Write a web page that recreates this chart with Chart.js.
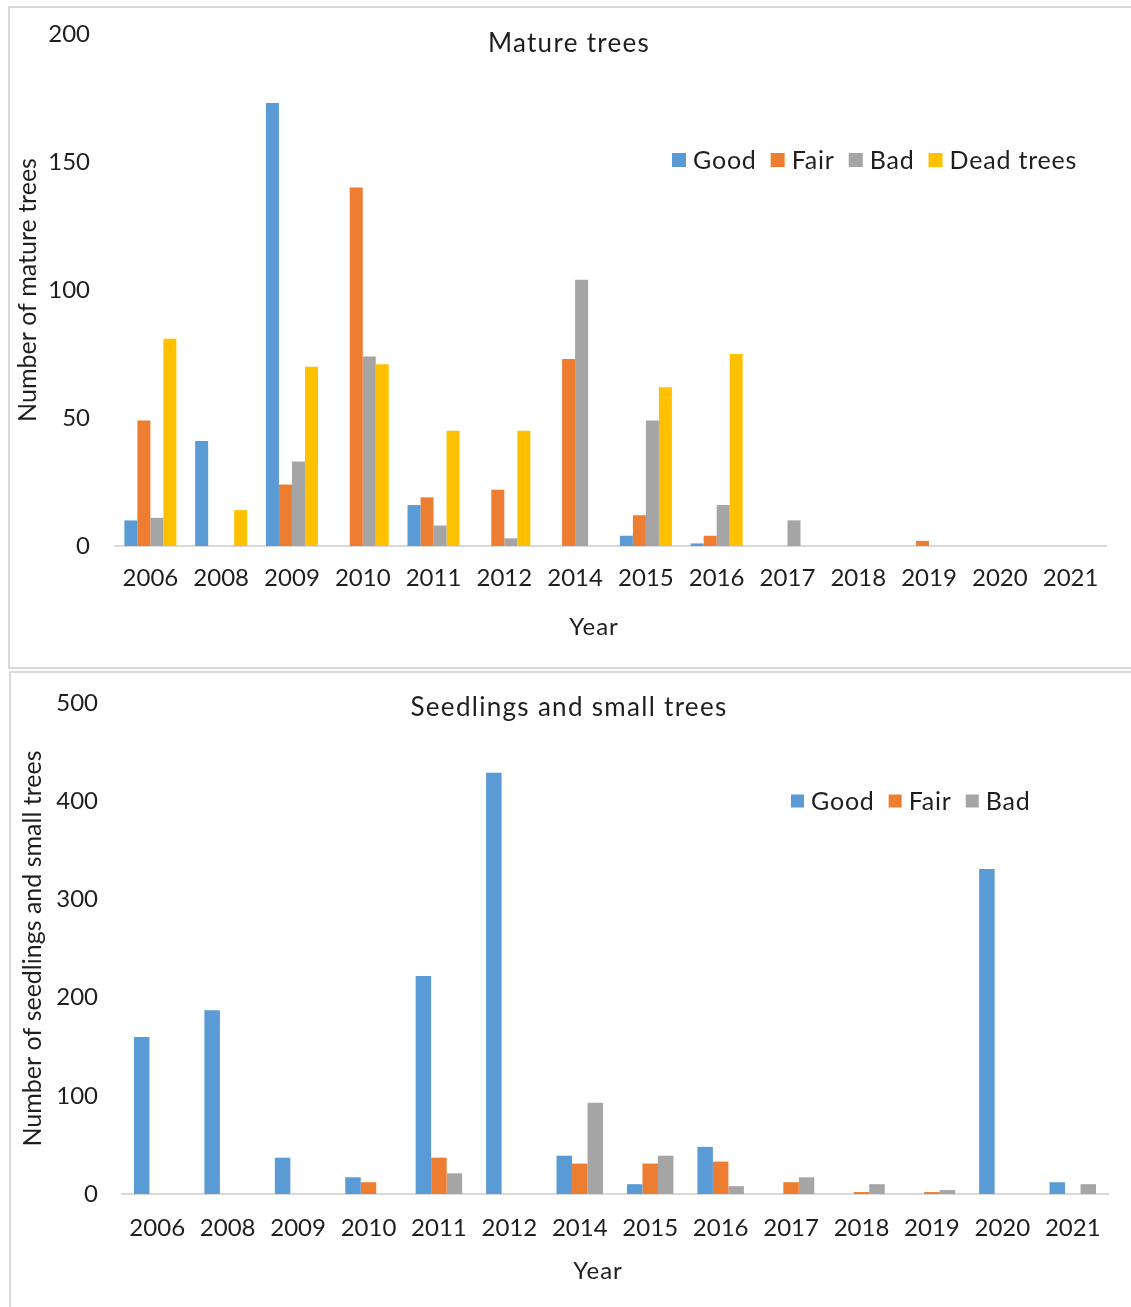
<!DOCTYPE html>
<html>
<head>
<meta charset="utf-8">
<script src="https://cdn.jsdelivr.net/npm/chart.js@4.4.1/dist/chart.umd.min.js"></script>
<style>
  html, body { margin: 0; padding: 0; background: #fff; width: 1131px; height: 1307px; overflow: hidden; }
  .panel { position: absolute; border: 2px solid #d9d9d9; box-sizing: border-box; }
  .holder { position: absolute; left: 0; }
  canvas { display: block; }
</style>
</head>
<body>
<div class="panel" style="left:8px;top:6px;width:1140px;height:663px"></div>
<div class="panel" style="left:9px;top:671px;width:1140px;height:700px"></div>
<div class="holder" style="top:0;width:1131px;height:668px"><canvas id="mature" width="1131" height="668"></canvas></div>
<div class="holder" style="top:670px;width:1131px;height:637px"><canvas id="seedlings" width="1131" height="637"></canvas></div>

<script>
// Survey years (shared by both charts)
const years = ['2006','2008','2009','2010','2011','2012','2014','2015','2016','2017','2018','2019','2020','2021'];

// Mature trees by condition
const matureGood = [10, 41, 173, 0, 16, 0, 0, 4, 1, 0, 0, 0, 0, 0];
const matureFair = [49, 0, 24, 140, 19, 22, 73, 12, 4, 0, 0, 2, 0, 0];
const matureBad  = [11, 0, 33, 74, 8, 3, 104, 49, 16, 10, 0, 0, 0, 0];
const matureDead = [81, 14, 70, 71, 45, 45, 0, 62, 75, 0, 0, 0, 0, 0];

// Seedlings and small trees by condition
const seedGood = [160, 187, 37, 17, 222, 429, 39, 10, 48, 0, 0, 0, 331, 12];
const seedFair = [0, 0, 0, 12, 37, 0, 31, 31, 33, 12, 2, 2, 0, 0];
const seedBad  = [0, 0, 0, 0, 21, 0, 93, 39, 8, 17, 10, 4, 0, 10];

// Axis tick settings
const matureTicks = { min: 0, max: 200, step: 50 };
const seedTicks   = { min: 0, max: 500, step: 100 };

const FONT = 'Lato';
const INK = '#1e1e1e';
const COLORS = { good: '#5B9BD5', fair: '#ED7D31', bad: '#A5A5A5', dead: '#FFC000' };

Chart.defaults.font.family = FONT;
Chart.defaults.color = INK;

// Draws the chart title, the in-plot legend and the horizontal axis title
const overlayText = {
  id: 'overlayText',
  afterDraw(chart, args, o) {
    const ctx = chart.ctx;
    ctx.save();
    ctx.textBaseline = 'middle';
    ctx.fillStyle = INK;
    ctx.textAlign = 'center';
    ctx.letterSpacing = o.titleSpacing + 'px';
    ctx.font = o.titleSize + 'px ' + FONT;
    ctx.fillText(o.title, o.titleX, o.titleY);
    ctx.letterSpacing = '1px';
    ctx.font = o.axisSize + 'px ' + FONT;
    ctx.fillText(o.xTitle, o.xTitleX, o.xTitleY);

    ctx.textAlign = 'left';
    ctx.letterSpacing = o.legendSpacing + 'px';
    ctx.font = o.legendSize + 'px ' + FONT;
    let x = o.legendX;
    const box = o.box;
    chart.data.datasets.forEach(ds => {
      ctx.fillStyle = ds.backgroundColor;
      ctx.fillRect(x, o.legendY - box / 2, box, box);
      x += box + 7;
      ctx.fillStyle = INK;
      ctx.fillText(ds.label, x, o.legendY + 1);
      x += ctx.measureText(ds.label).width + 14;
    });
    ctx.restore();
  }
};

function makeChart(id, datasets, ticks, cfg) {
  return new Chart(document.getElementById(id), {
    type: 'bar',
    data: { labels: years, datasets },
    options: {
      responsive: false,
      animation: false,
      events: [],
      layout: { padding: cfg.padding },
      datasets: { bar: { categoryPercentage: cfg.catPct, barPercentage: 1.0, borderWidth: 0 } },
      plugins: {
        legend: { display: false },
        title: { display: false },
        tooltip: { enabled: false },
        overlayText: cfg.overlay
      },
      scales: {
        x: {
          grid: { display: false, drawTicks: false },
          border: { display: true, color: '#d9d9d9', width: 2 },
          ticks: { font: { size: 24 }, padding: cfg.xTickPad, maxRotation: 0, autoSkip: false },
          afterFit: s => { s.height = cfg.xHeight; }
        },
        y: {
          min: ticks.min, max: ticks.max,
          grid: { display: false, drawTicks: false },
          border: { display: false },
          ticks: { stepSize: ticks.step, font: { size: 24 }, padding: cfg.yTickPad },
          title: { display: true, text: cfg.yTitle, font: { size: 25 }, padding: 0 },
          afterFit: s => {
            s.width = cfg.yWidth;
            // the top label fits inside the layout padding already
            s.paddingTop = 0;
            s.paddingBottom = 0;
          }
        }
      }
    },
    plugins: [overlayText]
  });
}

makeChart('mature', [
  { label: 'Good', data: matureGood, backgroundColor: COLORS.good },
  { label: 'Fair', data: matureFair, backgroundColor: COLORS.fair },
  { label: 'Bad', data: matureBad, backgroundColor: COLORS.bad },
  { label: 'Dead trees', data: matureDead, backgroundColor: COLORS.dead }
], matureTicks, {
  padding: { left: 13, top: 34, right: 25, bottom: 0 },
  catPct: 0.735,
  xHeight: 122,
  xTickPad: 18,
  yTickPad: 25,
  yWidth: 102,
  yTitle: 'Number of mature trees',
  overlay: {
    title: 'Mature trees', titleX: 569, titleY: 44, titleSize: 26, titleSpacing: 1.3,
    xTitle: 'Year', xTitleX: 594, xTitleY: 627, axisSize: 24,
    legendX: 672, legendY: 160, legendSize: 25, legendSpacing: 0.8, box: 14
  }
});

makeChart('seedlings', [
  { label: 'Good', data: seedGood, backgroundColor: COLORS.good },
  { label: 'Fair', data: seedFair, backgroundColor: COLORS.fair },
  { label: 'Bad', data: seedBad, backgroundColor: COLORS.bad }
], seedTicks, {
  padding: { left: 18, top: 33, right: 23, bottom: 0 },
  catPct: 0.66,
  xHeight: 113,
  xTickPad: 20,
  yTickPad: 24,
  yWidth: 104,
  yTitle: 'Number of seedlings and small trees',
  overlay: {
    title: 'Seedlings and small trees', titleX: 569, titleY: 38, titleSize: 26, titleSpacing: 1.3,
    xTitle: 'Year', xTitleX: 598, xTitleY: 601, axisSize: 24,
    legendX: 791, legendY: 131, legendSize: 25, legendSpacing: 0.8, box: 13
  }
});
</script>
</body>
</html>
